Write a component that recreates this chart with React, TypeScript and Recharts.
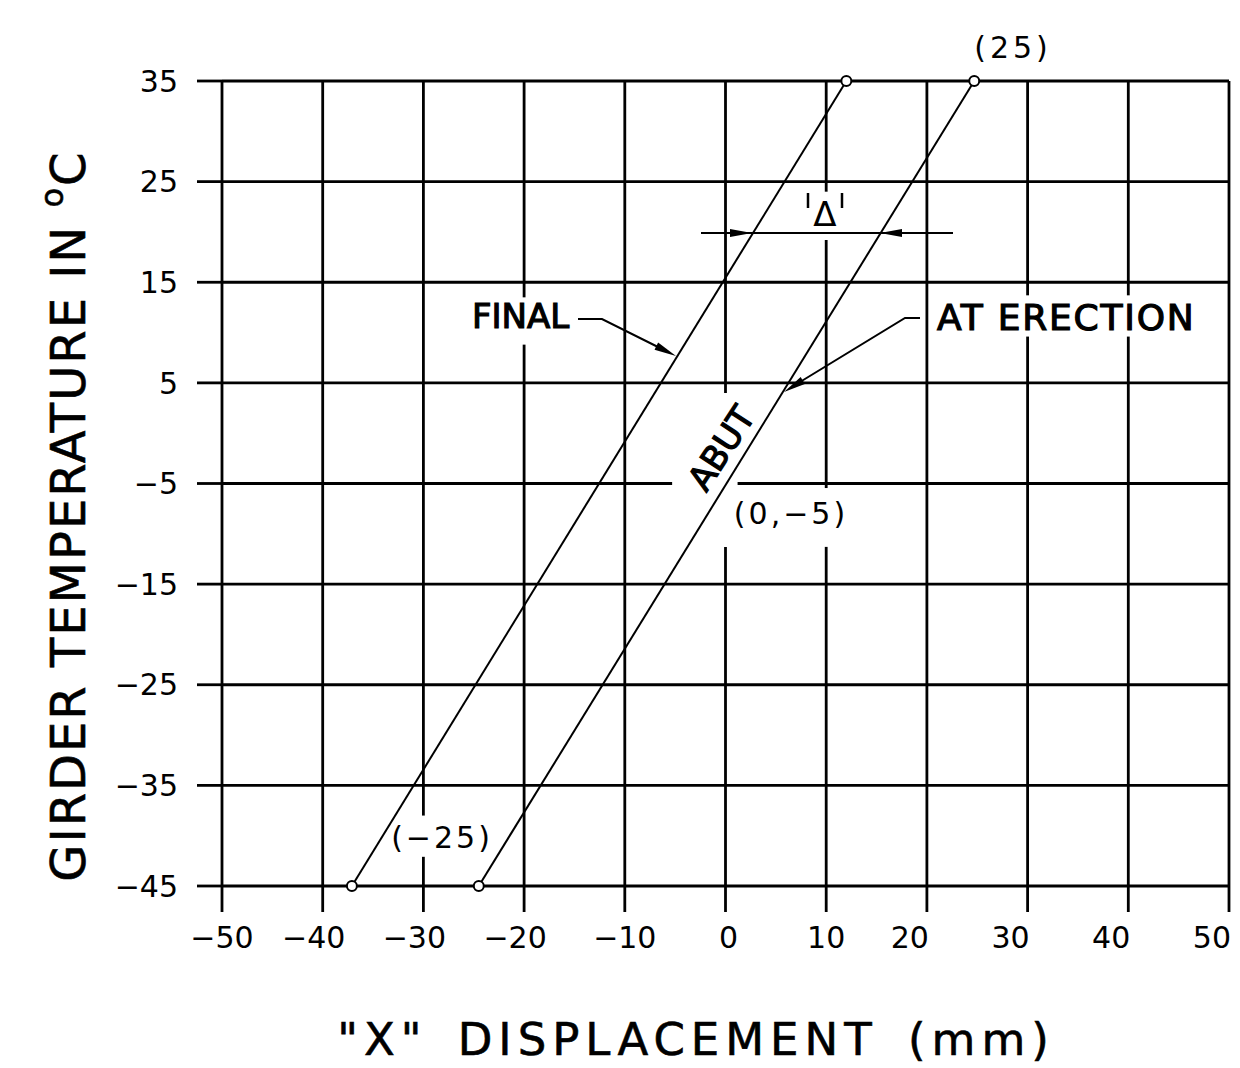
import { LineChart, Line, XAxis, YAxis, CartesianGrid, ReferenceArea } from "recharts";

const FONT = '"DejaVu Sans", Verdana, sans-serif';

// axis ticks
const xTicks = [-50, -40, -30, -20, -10, 0, 10, 20, 30, 40, 50];
const yTicks = [-45, -35, -25, -15, -5, 5, 15, 25, 35];

// displacement (mm) vs girder temperature (°C)
const finalLine = [
  { x: -37.1, t: -45 },
  { x: 12.0, t: 35 },
];
const erectionLine = [
  { x: -24.5, t: -45 },
  { x: 24.7, t: 35 },
];

// little white patches that break the grid behind the labels
const gridGaps = [
  { x1: -20.4, x2: -19.6, y1: 8.8, y2: 13.5 },
  { x1: 29.6, x2: 30.4, y1: 9.6, y2: 13.7 },
  { x1: 39.6, x2: 40.4, y1: 9.6, y2: 13.7 },
  { x1: 9.6, x2: 10.4, y1: 19.2, y2: 24.0 },
  { x1: -0.4, x2: 0.4, y1: -11.3, y2: 4.0 },
  { x1: -5.3, x2: 1.2, y1: -5.35, y2: -4.65 },
  { x1: 9.6, x2: 10.4, y1: -11.3, y2: -5.45 },
  { x1: -30.4, x2: -29.6, y1: -42.1, y2: -38.0 },
];

const fmt = (v: number) => String(v).replace("-", "\u2212");

// hand-lettered drawing: labels don't sit exactly centred on their ticks
function XTick(props: any) {
  const { x, y, payload } = props;
  const v = payload.value as number;
  let anchor: "middle" | "end" = "middle";
  let dx = 0;
  if (v >= 20) {
    anchor = "end";
    dx = 2;
  } else if (v <= -20 && v >= -40) {
    dx = -9;
  } else if (v === 0) {
    dx = 3;
  }
  return (
    <text
      x={x + dx}
      y={y}
      dy="0.71em"
      textAnchor={anchor}
      fontSize={30}
      fontFamily={FONT}
      fill="#000"
    >
      {fmt(v)}
    </text>
  );
}

function arrow(tx: number, ty: number, fx: number, fy: number, len = 22, hw = 4) {
  const dx = tx - fx;
  const dy = ty - fy;
  const d = Math.hypot(dx, dy);
  const ux = dx / d;
  const uy = dy / d;
  const bx = tx - ux * len;
  const by = ty - uy * len;
  return `${tx},${ty} ${bx - uy * hw},${by + ux * hw} ${bx + uy * hw},${by - ux * hw}`;
}

function Notes() {
  const bold = { fill: "#000", stroke: "#000", strokeWidth: 1.2 };
  return (
    <svg
      width={1232}
      height={1060}
      style={{ position: "absolute", left: 0, top: 0, pointerEvents: "none" }}
      fontFamily={FONT}
    >
      <g transform="translate(-8,-8)">
        {/* axis titles */}
        <text
          transform="translate(85,516) rotate(-90)"
          textAnchor="middle"
          fontSize={48}
          letterSpacing={2}
          fill="#000"
          stroke="#000"
          strokeWidth={0.6}
        >
          GIRDER TEMPERATURE IN{" "}
          <tspan fontSize={32} dy={-22}>
            o
          </tspan>
          <tspan dy={22}>C</tspan>
        </text>
        <text
          x={696}
          y={1055}
          textAnchor="middle"
          fontSize={45}
          letterSpacing={6}
          wordSpacing={10}
          fill="#000"
          stroke="#000"
          strokeWidth={0.6}
        >
          "X" DISPLACEMENT (mm)
        </text>

        {/* point labels */}
        <text x={1013} y={58} textAnchor="middle" fontSize={30} letterSpacing={4} fill="#000">
          (25)
        </text>
        <text x={442} y={848} textAnchor="middle" fontSize={30} letterSpacing={3} fill="#000">
          (−25)
        </text>
        <text x={791} y={524} textAnchor="middle" fontSize={30} letterSpacing={3} fill="#000">
          (0,−5)
        </text>

        {/* FINAL */}
        <text x={472} y={328} fontSize={34} {...bold}>
          FINAL
        </text>
        <polyline points="578,319 602,319 660,348" fill="none" stroke="#000" strokeWidth={2} />
        <polygon points={arrow(676, 356, 602, 319)} fill="#000" />

        {/* AT ERECTION */}
        <text x={937} y={330} fontSize={36} letterSpacing={1.8} {...bold}>
          AT ERECTION
        </text>
        <polyline points="920,318 905,318 800,382" fill="none" stroke="#000" strokeWidth={2} />
        <polygon points={arrow(784, 392, 905, 318)} fill="#000" />

        {/* ABUT */}
        <text
          transform="translate(721,448) rotate(-57)"
          textAnchor="middle"
          dy="0.36em"
          fontSize={34}
          {...bold}
        >
          ABUT
        </text>

        {/* delta dimension */}
        <line x1={701} y1={233} x2={953} y2={233} stroke="#000" strokeWidth={2} />
        <polygon points={arrow(752, 233, 701, 233)} fill="#000" />
        <polygon points={arrow(880, 233, 953, 233)} fill="#000" />
        <line x1={808} y1={193} x2={808} y2={208} stroke="#000" strokeWidth={2.5} />
        <line x1={842} y1={193} x2={842} y2={208} stroke="#000" strokeWidth={2.5} />
        <text x={825} y={226} textAnchor="middle" fontSize={34} fill="#000">
          Δ
        </text>
      </g>
    </svg>
  );
}

export default function App() {
  return (
    <div style={{ position: "relative", width: 1232, height: 1060, background: "#fff" }}>
      <LineChart width={1232} height={1060} margin={{ top: 73, right: 11, bottom: 0, left: 0 }}>
        <CartesianGrid stroke="#000" strokeWidth={2.8} />
        <XAxis
          type="number"
          dataKey="x"
          domain={[-50, 50]}
          ticks={xTicks}
          interval={0}
          height={182}
          tickSize={26}
          tickMargin={15}
          axisLine={false}
          tickLine={{ stroke: "#000", strokeWidth: 2.8 }}
          tick={<XTick />}
        />
        <YAxis
          type="number"
          dataKey="t"
          domain={[-45, 35]}
          ticks={yTicks}
          interval={0}
          width={214}
          tickSize={25}
          tickMargin={19}
          axisLine={false}
          tickLine={{ stroke: "#000", strokeWidth: 2.8 }}
          tick={{ fill: "#000", fontSize: 30, fontFamily: FONT }}
          tickFormatter={fmt}
        />
        {gridGaps.map((g, i) => (
          <ReferenceArea
            key={i}
            x1={g.x1}
            x2={g.x2}
            y1={g.y1}
            y2={g.y2}
            fill="#fff"
            fillOpacity={1}
            stroke="none"
            ifOverflow="visible"
            zIndex={-50}
          />
        ))}
        <Line
          data={finalLine}
          dataKey="t"
          type="linear"
          stroke="#000"
          strokeWidth={2}
          dot={{ r: 5, fill: "#fff", stroke: "#000", strokeWidth: 2 }}
          isAnimationActive={false}
        />
        <Line
          data={erectionLine}
          dataKey="t"
          type="linear"
          stroke="#000"
          strokeWidth={2}
          dot={{ r: 5, fill: "#fff", stroke: "#000", strokeWidth: 2 }}
          isAnimationActive={false}
        />
      </LineChart>
      <Notes />
    </div>
  );
}
